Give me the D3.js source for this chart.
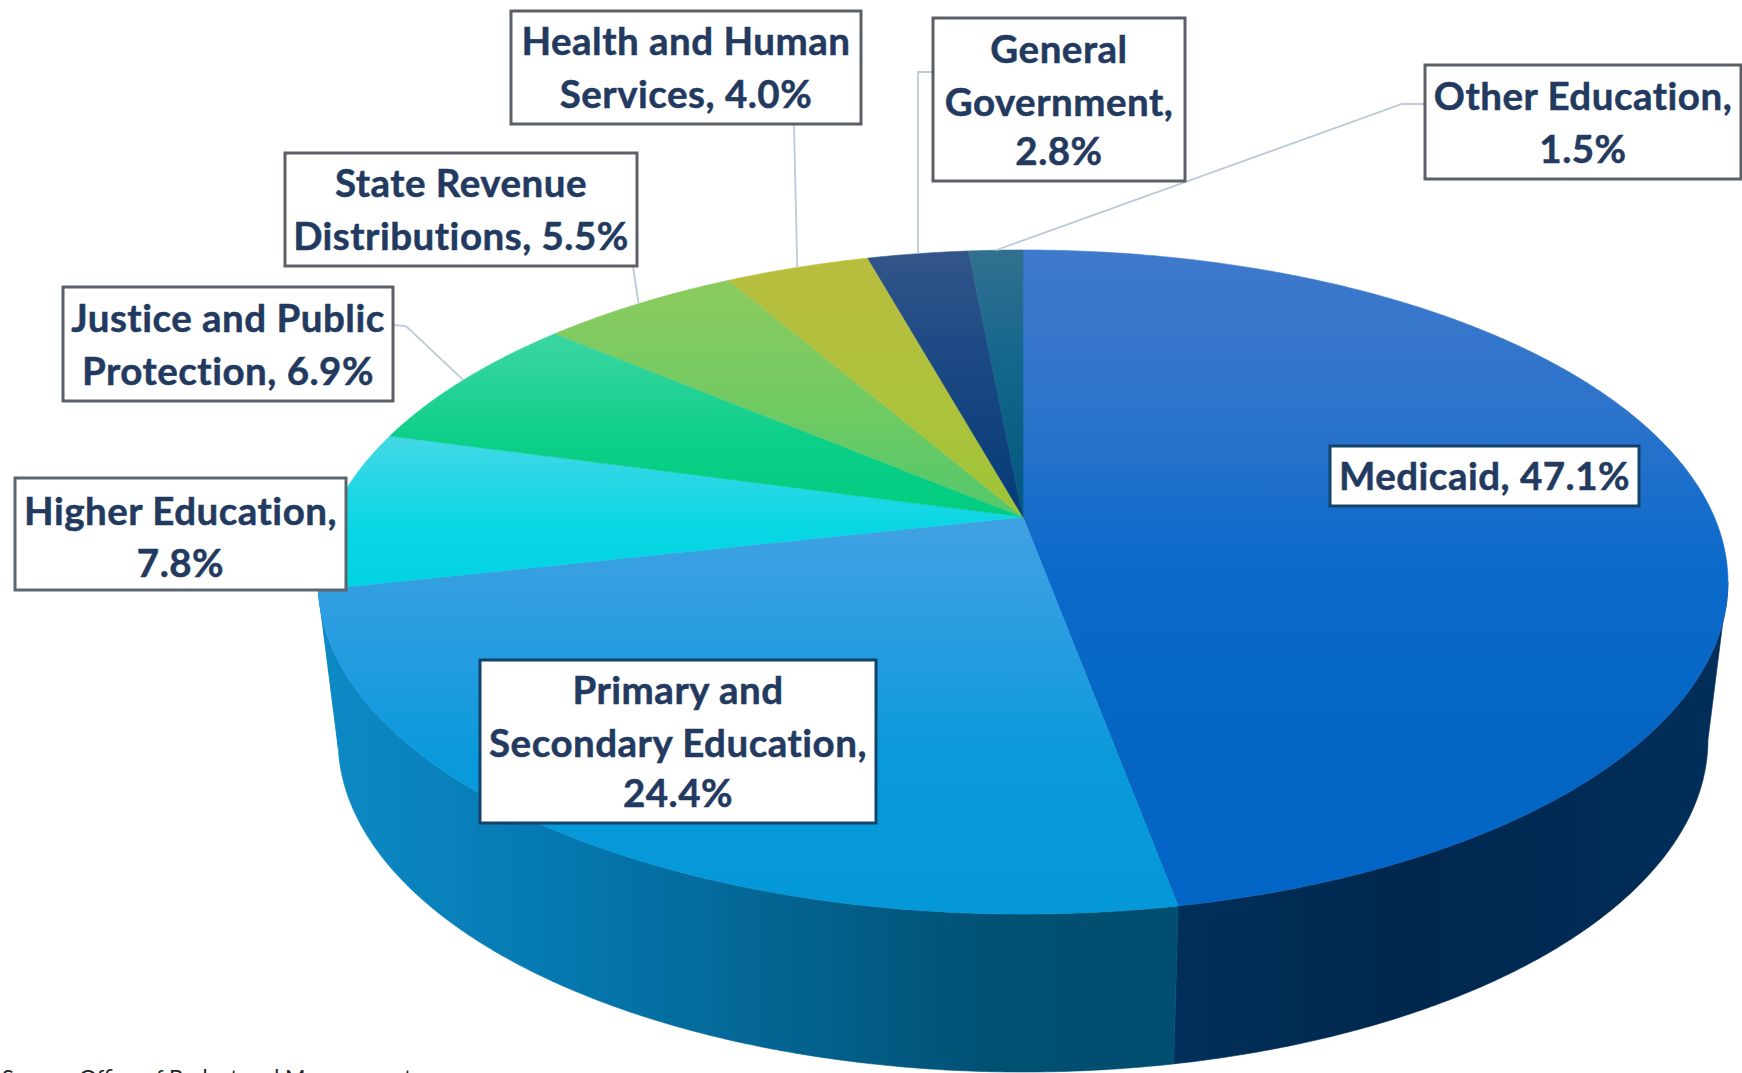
<!DOCTYPE html>
<html>
<head>
<meta charset="utf-8">
<title>Pie</title>
<script src="https://cdn.jsdelivr.net/npm/d3@7"></script>
<style>
  html, body { margin: 0; padding: 0; background: #fff; overflow: hidden; }
  svg { display: block; }
  text { font-family: Lato, "Open Sans", sans-serif; }
</style>
</head>
<body>
<div id="chart"></div>
<script>
// ------------------------------------------------------------------
// Data
var categories = ["Medicaid", "Primary and Secondary Education", "Higher Education",
  "Justice and Public Protection", "State Revenue Distributions",
  "Health and Human Services", "General Government", "Other Education"];
var values = [47.1, 24.4, 7.8, 6.9, 5.5, 4.0, 2.8, 1.5];
var labelLines = [
  ["Medicaid, 47.1%"],
  ["Primary and", "Secondary Education,", "24.4%"],
  ["Higher Education,", "7.8%"],
  ["Justice and Public", "Protection, 6.9%"],
  ["State Revenue", "Distributions, 5.5%"],
  ["Health and Human", "Services, 4.0%"],
  ["General", "Government,", "2.8%"],
  ["Other Education,", "1.5%"]
];
var sourceNote = "Source: Office of Budget and Management";

// ------------------------------------------------------------------
// Styles : vertical gradient of each top face [y, colour]
var faceStops = [
  [[250, "#3f79cc"], [420, "#2b73cb"], [560, "#0c6aca"], [760, "#0465c3"], [910, "#0265c6"]],
  [[517, "#41a2e2"], [650, "#259ce0"], [760, "#0a99da"], [915, "#0498d8"]],
  [[440, "#41d8e6"], [530, "#08d6e4"], [600, "#00d2e2"]],
  [[345, "#38d5a0"], [440, "#0ccf88"], [520, "#02cc80"]],
  [[280, "#8ccb5e"], [400, "#72ca62"], [517, "#52c86c"]],
  [[255, "#b9bd3e"], [400, "#aec23c"], [517, "#9cc438"]],
  [[250, "#33558a"], [350, "#1d4a84"], [517, "#053a78"]],
  [[250, "#32708f"], [360, "#14668c"], [517, "#00577e"]]
];
// side wall, horizontal gradient [x, colour]
var sideStops = [
  [[1174, "#00305a"], [1400, "#00274e"], [1730, "#012e5a"]],
  [[335, "#0c89c4"], [560, "#0578b0"], [800, "#03628f"], [1000, "#005072"], [1178, "#004e70"]],
  [[300, "#0c89c4"], [345, "#0c89c4"]],
  [[300, "#0a9a70"], [345, "#0a9a70"]],
  [[300, "#5a9a40"], [345, "#5a9a40"]],
  [[300, "#808a28"], [345, "#808a28"]],
  [[300, "#0a2c58"], [345, "#0a2c58"]],
  [[300, "#084460"], [345, "#084460"]]
];
var boxStroke = ["#12436a", "#12436a", "#5b6670", "#5b5f66", "#5b5f66", "#5b5f66", "#5b5f66", "#5b5f66"];
var textColor = "#233a60";
var leaderColor = "#bccbd8";

// label boxes : left, top, right, bottom, text line centres
var boxes = [
  {x0: 1330, y0: 446, x1: 1639, y1: 506, lines: [477]},
  {x0: 480, y0: 660, x1: 876, y1: 823, lines: [691, 744, 794]},
  {x0: 15, y0: 478, x1: 346, y1: 590, lines: [512, 564]},
  {x0: 63, y0: 287, x1: 393, y1: 401, lines: [319, 372]},
  {x0: 285, y0: 153, x1: 637, y1: 266, lines: [184, 237]},
  {x0: 511, y0: 11, x1: 861, y1: 124, lines: [42, 95]},
  {x0: 933, y0: 18, x1: 1185, y1: 181, lines: [50, 103, 152]},
  {x0: 1425, y0: 65, x1: 1741, y1: 179, lines: [97, 150]}
];
// leader elbow next to the box, null when the line leaves straight down
var leaderFrom = [
  null, null, null,
  [[393, 325], [406, 326]],
  [[633, 266]],
  [[794, 124]],
  [[933, 72], [918, 72]],
  [[1425, 104], [1402, 104]]
];

// ------------------------------------------------------------------
// Global var
var width = 1742, height = 1073;
var cx = 1023, apexY = 517;
var persp = -0.1958;      // perspective of the tilted disc
var radiusX = 691.3, radiusY = 319.3;
var depth = 158, bottomScaleX = 0.9716;

var svg = d3.select("#chart").append("svg")
  .attr("width", width)
  .attr("height", height);
var defs = svg.append("defs");

var pie = d3.pie().sort(null).value(function(d) { return d; });
var arcs = pie(values);

var x = d3.scaleLinear().domain([-1, 1]).range([cx - radiusX, cx + radiusX]);
var y = d3.scaleLinear().domain([-1, 1]).range([apexY - radiusY, apexY + radiusY]);

// circle point -> screen, r = 1 on the rim, bottom = true for the lower disc
function project(angle, r, bottom) {
  var ux = r * Math.sin(angle), uy = -r * Math.cos(angle);
  var w = 1 + persp * uy;
  var px = x(ux / w), py = y(uy / w);
  if (bottom) {
    px = cx + (px - cx) * bottomScaleX;
    py = py + depth;
  }
  return [px, py];
}

function rim(a0, a1, bottom) {
  var pts = [], n = Math.max(2, Math.ceil((a1 - a0) / 0.006));
  for (var i = 0; i <= n; i++) {
    pts.push(project(a0 + (a1 - a0) * i / n, 1, bottom));
  }
  return pts;
}

var line = d3.line();

function gradient(id, stops, horizontal) {
  var g = defs.append("linearGradient").attr("id", id).attr("gradientUnits", "userSpaceOnUse");
  var lo = stops[0][0], hi = stops[stops.length - 1][0];
  if (horizontal) { g.attr("x1", lo).attr("x2", hi).attr("y1", 0).attr("y2", 0); }
  else { g.attr("x1", 0).attr("x2", 0).attr("y1", lo).attr("y2", hi); }
  stops.forEach(function(s) {
    g.append("stop").attr("offset", (s[0] - lo) / (hi - lo)).attr("stop-color", s[1]);
  });
}

// ------------------------------------------------------------------
// Side wall, only between the two silhouette angles
var sideMin = Math.acos(persp), sideMax = 2 * Math.PI - sideMin;
var side = svg.append("g");
arcs.forEach(function(d, i) {
  var a0 = Math.max(d.startAngle, sideMin), a1 = Math.min(d.endAngle, sideMax);
  if (a1 <= a0) return;
  gradient("side" + i, sideStops[i], true);
  var pts = rim(a0, a1, false).concat(rim(a0, a1, true).reverse());
  side.append("path")
    .attr("d", line(pts) + "Z")
    .attr("fill", "url(#side" + i + ")")
    .attr("stroke", "url(#side" + i + ")")
    .attr("stroke-width", 0.6);
});

// ------------------------------------------------------------------
// Top faces
var top_g = svg.append("g");
arcs.forEach(function(d, i) {
  gradient("face" + i, faceStops[i], false);
  var pts = [project(0, 0, false)].concat(rim(d.startAngle, d.endAngle, false));
  top_g.append("path")
    .attr("d", line(pts) + "Z")
    .attr("fill", "url(#face" + i + ")")
    .attr("stroke", "url(#face" + i + ")")
    .attr("stroke-width", 0.6);
});

// ------------------------------------------------------------------
// Leader lines end on the rim, at the middle of the slice
arcs.forEach(function(d, i) {
  if (!leaderFrom[i]) return;
  var end = project((d.startAngle + d.endAngle) / 2, 1, false);
  svg.append("path")
    .attr("d", line(leaderFrom[i].concat([end])))
    .attr("fill", "none")
    .attr("stroke", leaderColor)
    .attr("stroke-width", 1.8);
});

// ------------------------------------------------------------------
// Label boxes
boxes.forEach(function(b, i) {
  var g = svg.append("g").attr("class", "label");
  g.append("rect")
    .attr("x", b.x0).attr("y", b.y0)
    .attr("width", b.x1 - b.x0).attr("height", b.y1 - b.y0)
    .attr("fill", "#fff")
    .attr("stroke", boxStroke[i])
    .attr("stroke-width", 3);
  labelLines[i].forEach(function(t, j) {
    g.append("text")
      .attr("x", (b.x0 + b.x1) / 2)
      .attr("y", b.lines[j])
      .attr("dy", "0.35em")
      .attr("text-anchor", "middle")
      .attr("font-size", 38.5)
      .attr("font-weight", 700)
      .attr("letter-spacing", 0.5)
      .attr("stroke", textColor)
      .attr("stroke-width", 0.5)
      .attr("fill", textColor)
      .text(t);
  });
});

// Source note, cut by the bottom of the page like in the picture
svg.append("text")
  .attr("x", 2).attr("y", 1085)
  .attr("font-size", 22)
  .attr("fill", "#222")
  .text(sourceNote);
</script>
</body>
</html>
